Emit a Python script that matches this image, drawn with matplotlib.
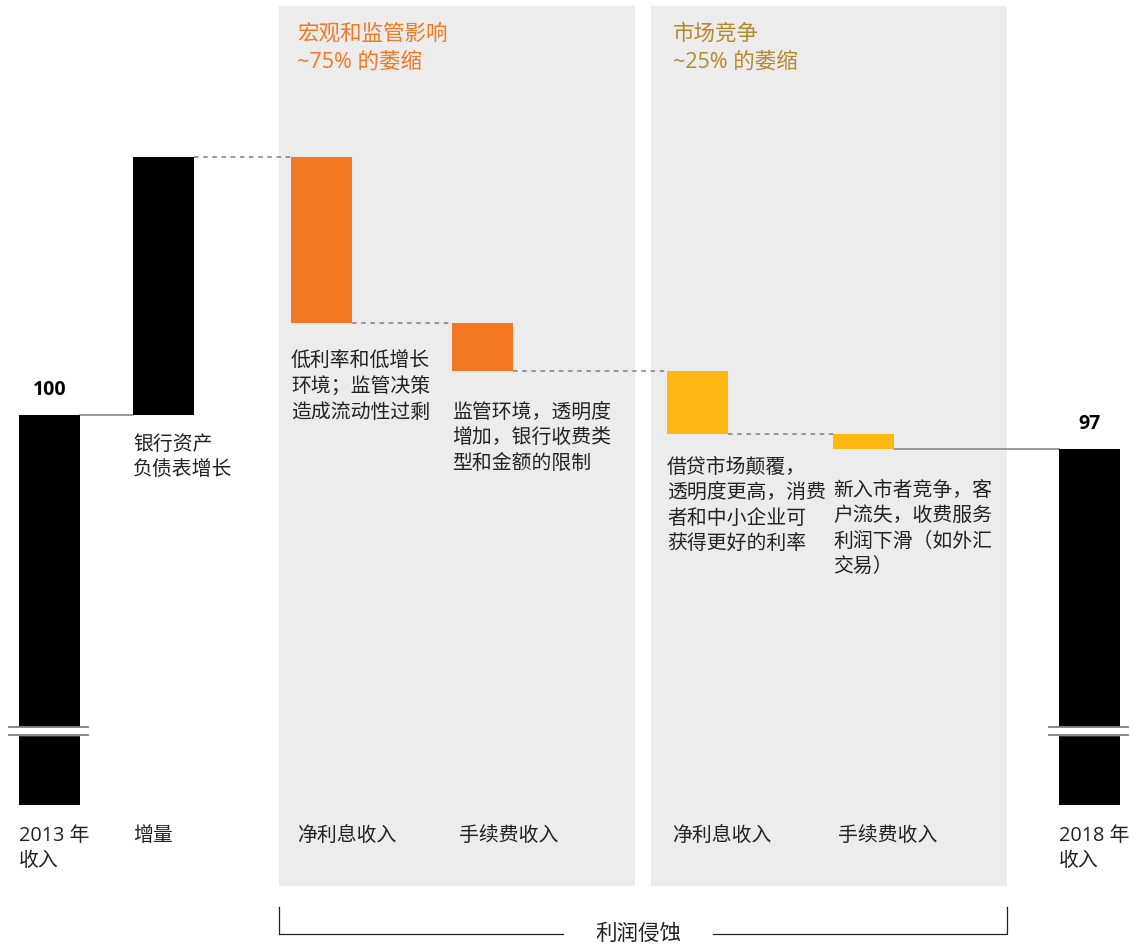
import numpy as np
import matplotlib.pyplot as plt
from matplotlib.patches import Rectangle

plt.rcParams['font.family'] = ['Open Sans', 'Noto Sans CJK SC', 'DejaVu Sans']

# %% Data:

start_value = 100
end_value = 97
increase = 22.8
declines = [14.7, 4.2, 5.6, 1.3]

categories = ['2013 年\n收入', '增量', '净利息收入', '手续费收入',
              '净利息收入', '手续费收入', '2018 年\n收入']
bar_notes = ['', '银行资产\n负债表增长',
             '低利率和低增长\n环境；监管决策\n造成流动性过剩',
             '监管环境，透明度\n增加，银行收费类\n型和金额的限制',
             '借贷市场颠覆，\n透明度更高，消费\n者和中小企业可\n获得更好的利率',
             '新入市者竞争，客\n户流失，收费服务\n利润下滑（如外汇\n交易）',
             '']
panel_titles = ['宏观和监管影响\n~75% 的萎缩', '市场竞争\n~25% 的萎缩']
bracket_label = '利润侵蚀'

# %% Layout and styles:

W, H = 1140, 944
x_pos = [49.5, 163.5, 321.5, 482.5, 697.5, 863.5, 1089.5]
cat_dx = [0, 0, 6, 7, 5, 5, 0]             # label indent from bar left [px]
note_gap = [0, 14, 21, 23, 17, 23, 0]      # note top below bar bottom [pt]
bar_w = 61
base = 65.6          # broken axis floor
px_per_unit = 11.333
y_ref_px = 415       # pixel row of start_value

black = '#000000'
orange = '#F47721'
yellow = '#FDB813'
gold = '#B5882A'
panel_grey = '#ECECEC'
line_grey = '#7F7F7F'
text_col = '#222222'
colors = [black, black, orange, orange, yellow, yellow, black]


def yv(py):
    # pixel row -> value
    return start_value + (y_ref_px - py) / px_per_unit


# %% Waterfall geometry:

bottoms = [base, start_value]
heights = [start_value - base, increase]
level = start_value + increase
for d in declines:
    level -= d
    bottoms.append(level)
    heights.append(d)
bottoms.append(base)
heights.append(end_value - base)
tops = [b + h for b, h in zip(bottoms, heights)]

# %% Plot:

fig = plt.figure(figsize=(W / 100, H / 100), dpi=100)
ax = fig.add_axes([0, 0, 1, 1])
ax.set_xlim(0, W)
ax.set_ylim(yv(H), yv(0))
ax.axis('off')

# grey panels
for x0, x1 in [(279, 635), (651, 1007)]:
    ax.add_patch(Rectangle((x0, yv(886)), x1 - x0, yv(6) - yv(886),
                           facecolor=panel_grey, edgecolor='none', zorder=0))

for (tx, col), title in zip([(297, orange), (673, gold)], panel_titles):
    ax.text(tx, yv(24), title, color=col, fontsize=15.5, ha='left', va='top',
            linespacing=1.42)

ax.bar(x_pos, heights, bottom=bottoms, width=bar_w, color=colors, zorder=3)

# connectors between bars: solid to/from the totals, dashed in between
for i in range(len(x_pos) - 1):
    if i == 0:
        y, ls = tops[0], '-'
    elif i == len(x_pos) - 2:
        y, ls = tops[-1], '-'
    else:
        y, ls = tops[i + 1], (0, (3, 3))
    ax.plot([x_pos[i] + bar_w / 2, x_pos[i + 1] - bar_w / 2], [y, y],
            color=line_grey, lw=1.1, ls=ls, zorder=2)

# axis break marks
for i in (0, len(x_pos) - 1):
    xl, xr = x_pos[i] - bar_w / 2 - 10, x_pos[i] + bar_w / 2 + 8
    ax.fill_between([xl + 10, xr - 8], yv(735), yv(727), color='white', zorder=4)
    for py in (727, 735):
        ax.plot([xl, xr], [yv(py), yv(py)], color=line_grey, lw=1.3, zorder=5)

# value labels
for i, val in [(0, start_value), (len(x_pos) - 1, end_value)]:
    ax.annotate(f'{val:g}', (x_pos[i], tops[i]), xytext=(0, 18),
                textcoords='offset points', ha='center', va='center',
                fontsize=14, fontweight='bold', color=black)

# notes under each bar
for i, note in enumerate(bar_notes):
    if not note:
        continue
    ax.annotate(note, (x_pos[i] - bar_w / 2, bottoms[i]),
                xytext=(0, -note_gap[i]), textcoords='offset points',
                ha='left', va='top', fontsize=14.3, color=text_col,
                linespacing=1.36)

# category labels
for x, dx, cat in zip(x_pos, cat_dx, categories):
    ax.text(x - bar_w / 2 + dx, yv(826), cat, ha='left', va='top',
            fontsize=14.3, color=text_col, linespacing=1.3)

# bracket
ax.plot([279, 279, 563], [yv(907), yv(934), yv(934)], color=text_col, lw=0.9)
ax.plot([713, 1007, 1007], [yv(934), yv(934), yv(907)], color=text_col, lw=0.9)
ax.text(638, yv(934), bracket_label, ha='center', va='center', fontsize=15.5,
        color=text_col)

fig.savefig('out.png', dpi=100)
